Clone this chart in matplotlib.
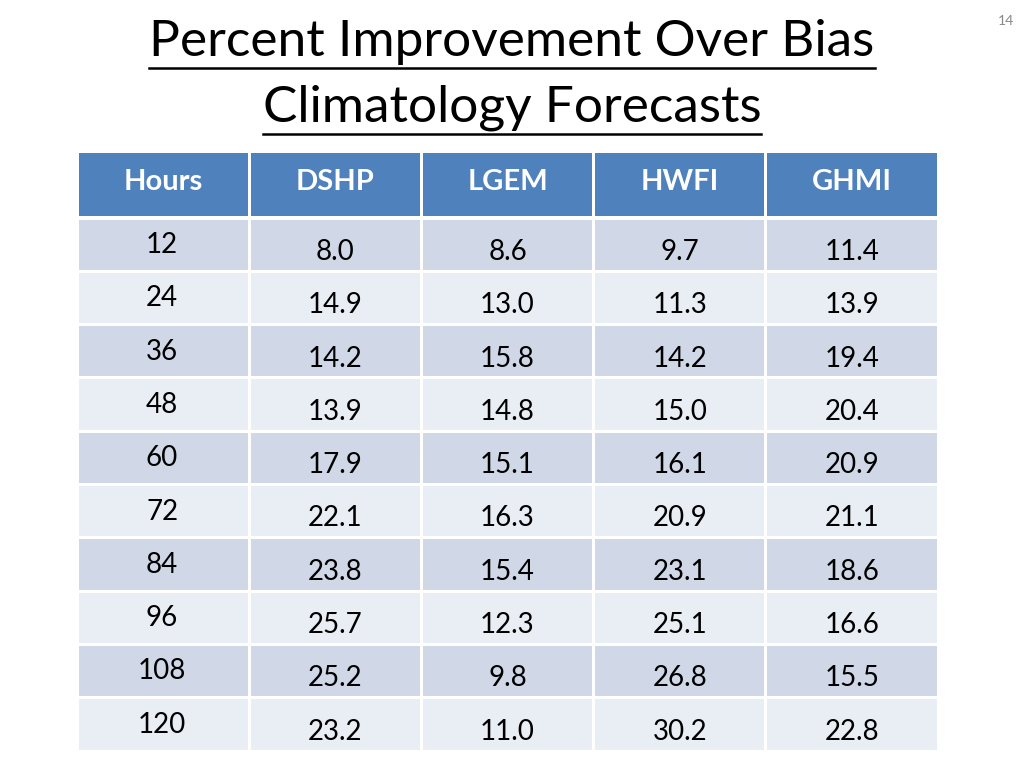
import matplotlib
matplotlib.use('Agg')
import matplotlib.pyplot as plt
from matplotlib.patches import Rectangle

plt.rcParams['font.family'] = ['Lato', 'DejaVu Sans']

title_lines = ['Percent Improvement Over Bias', 'Climatology Forecasts']
columns = ['Hours', 'DSHP', 'LGEM', 'HWFI', 'GHMI']
hours = [12, 24, 36, 48, 60, 72, 84, 96, 108, 120]
dshp = [8.0, 14.9, 14.2, 13.9, 17.9, 22.1, 23.8, 25.7, 25.2, 23.2]
lgem = [8.6, 13.0, 15.8, 14.8, 15.1, 16.3, 15.4, 12.3, 9.8, 11.0]
hwfi = [9.7, 11.3, 14.2, 15.0, 16.1, 20.9, 23.1, 25.1, 26.8, 30.2]
ghmi = [11.4, 13.9, 19.4, 20.4, 20.9, 21.1, 18.6, 16.6, 15.5, 22.8]
page_no = '14'

header_color = '#4F81BD'
dark_row = '#D0D8E8'
light_row = '#E9EDF4'

fig = plt.figure(figsize=(10.24, 7.68), dpi=100)
ax = fig.add_axes([0, 0, 1, 1])
ax.set_xlim(0, 1024)
ax.set_ylim(768, 0)
ax.axis('off')

# table geometry (pixels)
x0, col_w = 77, 172.2
head_top, head_h = 153, 63
body_top, row_h = 218, 53.3
gap = 1.5

for j, name in enumerate(columns):
    xl = x0 + j * col_w
    ax.add_patch(Rectangle((xl + gap, head_top), col_w - 2 * gap, head_h,
                           facecolor=header_color, edgecolor='none'))
    ax.text(xl + col_w / 2, head_top + head_h / 2 - 2, name, color='white',
            fontsize=21, fontweight='bold', ha='center', va='center')

series = [dshp, lgem, hwfi, ghmi]
for i, h in enumerate(hours):
    yt = body_top + i * row_h
    fc = dark_row if i % 2 == 0 else light_row
    for j in range(len(columns)):
        xl = x0 + j * col_w
        ax.add_patch(Rectangle((xl + gap, yt + gap), col_w - 2 * gap, row_h - 2 * gap,
                               facecolor=fc, edgecolor='none'))
    ax.text(x0 + col_w / 2 - 1, yt + 27, str(h), fontsize=20,
            ha='center', va='center', color='black')
    for j, vals in enumerate(series, start=1):
        ax.text(x0 + j * col_w + col_w / 2, yt + 34, '%.1f' % vals[i],
                fontsize=20, ha='center', va='center', color='black')

# title, underlined
for k, line in enumerate(title_lines):
    yc = 42 + k * 66
    t = ax.text(512, yc, line, fontsize=37, ha='center', va='center', color='black')
    fig.canvas.draw()
    bb = t.get_window_extent()
    ax.plot([bb.x0, bb.x1], [yc + 26, yc + 26], color='black', lw=1.8)

ax.text(1006, 21, page_no, fontsize=10, color='#888888', ha='center', va='center')

fig.savefig('out.png', dpi=100)
